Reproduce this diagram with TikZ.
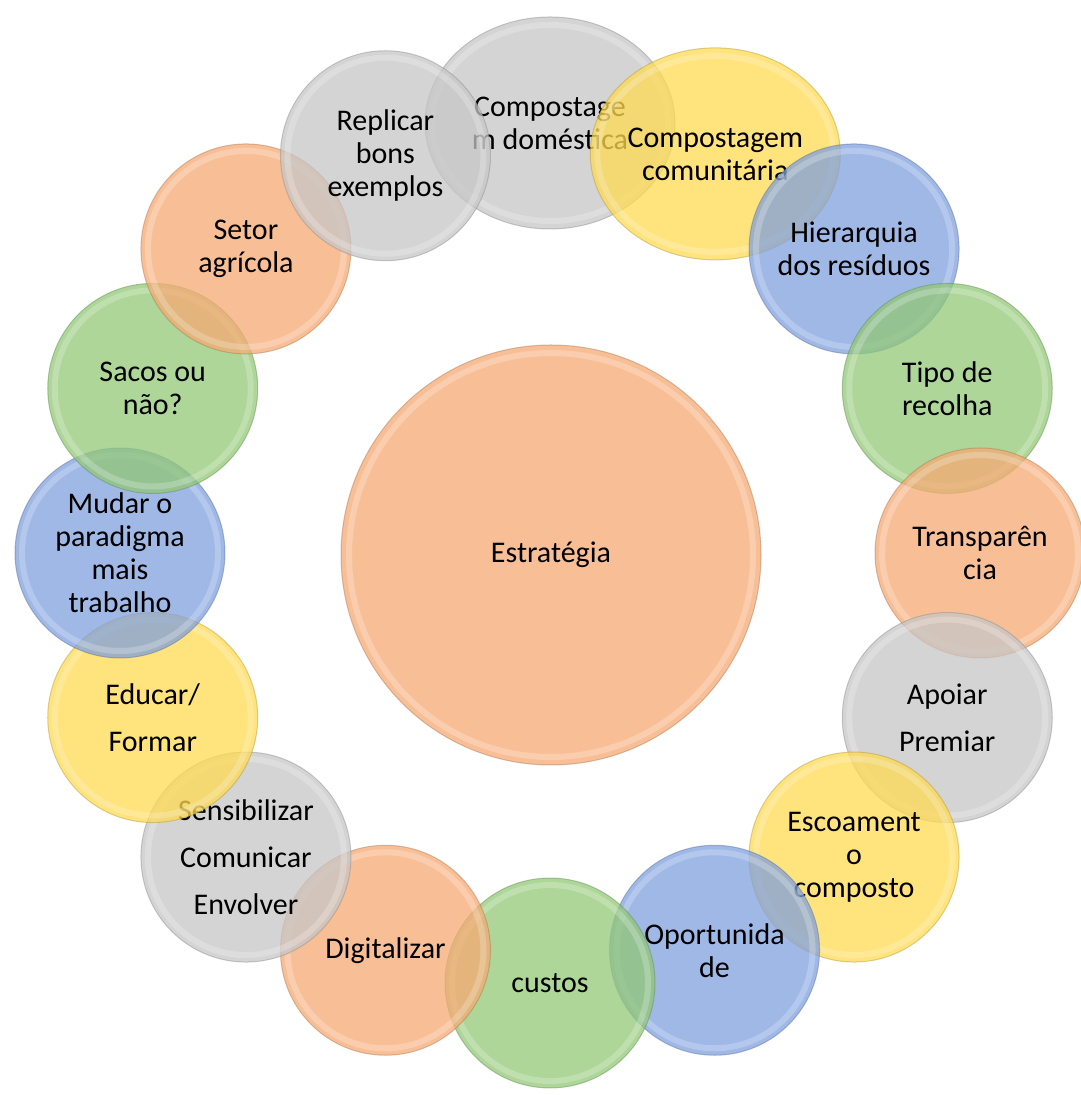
\documentclass[tikz,border=0pt]{standalone}
\usepackage{fontspec}
\setmainfont{Carlito}
\usetikzlibrary{shapes.geometric}

\definecolor{orangeA}{RGB}{246,170,115}
\definecolor{grayA}{RGB}{198,198,198}
\definecolor{yellowA}{RGB}{255,218,80}
\definecolor{blueA}{RGB}{128,160,222}
\definecolor{greenA}{RGB}{145,200,118}
\newcommand{\lbl}{\fontsize{15}{16.5}\selectfont}

\tikzset{
  bubble/.style={circle, minimum size=105pt, inner sep=0pt, align=center, font=\lbl,
    fill=#1, fill opacity=.75, text opacity=1, draw=#1!70!black, draw opacity=.45, line width=.5pt},
  oval/.style={bubble=#1, ellipse, minimum width=125pt, minimum height=106pt},
  gloss/.style={draw=white, line width=3pt, opacity=.22},
}

\begin{document}
\begin{tikzpicture}[x=0.5pt,y=0.5pt]
	\useasboundingbox (-550,-542) rectangle (530,553);
	\node[bubble=orangeA, minimum size=210pt] (strat) at (1,-2) {Estratégia};
	\draw[gloss] (strat.center) circle (101pt);
	% ring, clockwise from the top
	\node[oval=grayA] (domestica) at (90:430) {Compostage\\m doméstica};
	\draw[gloss] (domestica.center) ellipse [x radius=59pt, y radius=49pt];
	\node[oval=yellowA] (comunit) at (67.5:432) {Compostagem\\comunitária};
	\draw[gloss] (comunit.center) ellipse [x radius=59pt, y radius=49pt];
	\node[bubble=blueA] (hierarq) at (45:430) {Hierarquia\\dos resíduos};
	\draw[gloss] (hierarq.center) circle (49pt);
	\node[bubble=greenA] (recolha) at (22.5:430) {Tipo de\\recolha};
	\draw[gloss] (recolha.center) circle (49pt);
	\node[bubble=orangeA] (transp) at (0:430) {Transparên\\cia};
	\draw[gloss] (transp.center) circle (49pt);
	\node[bubble=grayA] (apoiar) at (-22.5:430) {Apoiar\\[7pt]Premiar};
	\draw[gloss] (apoiar.center) circle (49pt);
	\node[bubble=yellowA] (escoam) at (-45:430) {Escoament\\o\\composto};
	\draw[gloss] (escoam.center) circle (49pt);
	\node[bubble=blueA] (oportun) at (-67.5:430) {Oportunida\\de};
	\draw[gloss] (oportun.center) circle (49pt);
	\node[bubble=greenA] (custos) at (-90:430) {custos};
	\draw[gloss] (custos.center) circle (49pt);
	\node[bubble=orangeA] (digital) at (-112.5:430) {Digitalizar};
	\draw[gloss] (digital.center) circle (49pt);
	\node[bubble=grayA] (sensib) at (-135:430) {Sensibilizar\\[7pt]Comunicar\\[7pt]Envolver};
	\draw[gloss] (sensib.center) circle (49pt);
	\node[bubble=yellowA] (educar) at (-157.5:430) {Educar/\\[7pt]Formar};
	\draw[gloss] (educar.center) circle (49pt);
	\node[bubble=blueA] (paradig) at (180:430) {Mudar o\\paradigma\\mais\\trabalho};
	\draw[gloss] (paradig.center) circle (49pt);
	\node[bubble=greenA] (sacos) at (157.5:430) {Sacos ou\\não?};
	\draw[gloss] (sacos.center) circle (49pt);
	\node[bubble=orangeA] (agricola) at (135:430) {Setor\\agrícola};
	\draw[gloss] (agricola.center) circle (49pt);
	\node[bubble=grayA] (replicar) at (112.5:430) {Replicar\\bons\\exemplos};
	\draw[gloss] (replicar.center) circle (49pt);
\end{tikzpicture}
\end{document}
